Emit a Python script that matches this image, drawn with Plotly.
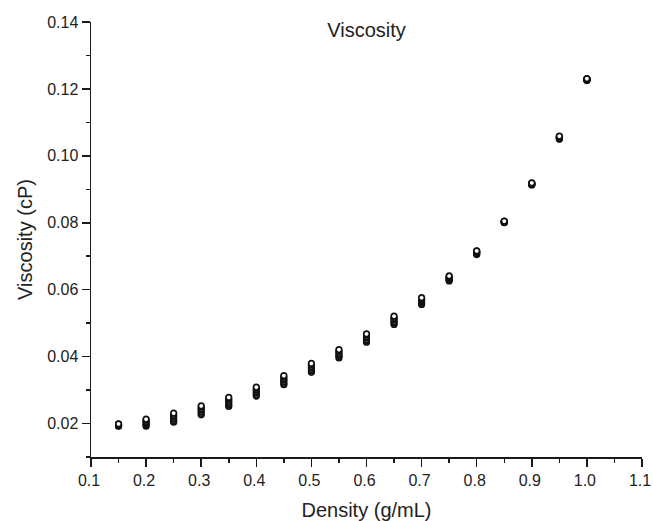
import plotly.graph_objects as go

# Density (g/mL) at which viscosity was evaluated
density = [0.15, 0.20, 0.25, 0.30, 0.35, 0.40, 0.45, 0.50, 0.55,
           0.60, 0.65, 0.70, 0.75, 0.80, 0.85, 0.90, 0.95, 1.00]

# Viscosity (cP), several overlapping series (lowest to highest)
visc_s1 = [0.0192, 0.0192, 0.0204, 0.0226, 0.0251, 0.0282, 0.0316, 0.0353, 0.0396,
           0.0443, 0.0496, 0.0556, 0.0626, 0.0705, 0.0800, 0.0913, 0.1050, 0.1225]
visc_s2 = [0.0193, 0.0195, 0.0208, 0.0230, 0.0255, 0.0286, 0.0320, 0.0357, 0.0400,
           0.0447, 0.0500, 0.0559, 0.0628, 0.0707, 0.0801, 0.0914, 0.1051, 0.1226]
visc_s3 = [0.0194, 0.0199, 0.0213, 0.0235, 0.0260, 0.0291, 0.0325, 0.0362, 0.0404,
           0.0451, 0.0504, 0.0563, 0.0631, 0.0709, 0.0802, 0.0915, 0.1053, 0.1227]
visc_s4 = [0.0195, 0.0203, 0.0218, 0.0240, 0.0265, 0.0296, 0.0330, 0.0367, 0.0409,
           0.0456, 0.0509, 0.0567, 0.0633, 0.0711, 0.0803, 0.0916, 0.1054, 0.1228]
visc_s5 = [0.0197, 0.0206, 0.0222, 0.0244, 0.0269, 0.0300, 0.0334, 0.0371, 0.0413,
           0.0460, 0.0513, 0.0570, 0.0636, 0.0713, 0.0803, 0.0917, 0.1056, 0.1229]
visc_s6 = [0.0198, 0.0210, 0.0227, 0.0249, 0.0274, 0.0305, 0.0339, 0.0376, 0.0417,
           0.0464, 0.0517, 0.0573, 0.0638, 0.0715, 0.0804, 0.0918, 0.1057, 0.1230]
visc_s7 = [0.0199, 0.0213, 0.0231, 0.0253, 0.0278, 0.0309, 0.0343, 0.0380, 0.0421,
           0.0468, 0.0521, 0.0576, 0.0641, 0.0716, 0.0805, 0.0919, 0.1059, 0.1231]

series = [visc_s1, visc_s2, visc_s3, visc_s4, visc_s5, visc_s6, visc_s7]

# Axis ticks
x_ticks = [0.1, 0.2, 0.3, 0.4, 0.5, 0.6, 0.7, 0.8, 0.9, 1.0, 1.1]
x_ticklabels = ["0.1", "0.2", "0.3", "0.4", "0.5", "0.6", "0.7", "0.8", "0.9", "1.0", "1.1"]

title_text = "Viscosity"
x_title = "Density (g/mL)"
y_title = "Viscosity (cP)"

FONT = "Liberation Sans, Arial, sans-serif"

W, H = 653, 521

fig = go.Figure()
for i, s in enumerate(series):
    fig.add_trace(go.Scatter(
        x=density, y=s, mode="markers", name=f"Series {i+1}",
        marker=dict(symbol="circle", size=5.5, color="white",
                    line=dict(color="#111111", width=1.7)),
        showlegend=False, cliponaxis=False, hoverinfo="skip",
    ))

axis_common = dict(
    showline=True, linecolor="#1a1a1a", linewidth=1.5,
    ticks="outside", ticklen=8, tickwidth=1.5, tickcolor="#1a1a1a",
    showgrid=False, zeroline=False, mirror=False, automargin=False,
    ticklabeloverflow="allow",
    tickfont=dict(family=FONT, size=16, color="#222222"),
)

fig.update_layout(
    width=W, height=H,
    margin=dict(l=91, r=11, t=22, b=64),
    paper_bgcolor="white", plot_bgcolor="white",
    font=dict(family=FONT, color="#222222"),
    title=dict(text=title_text, xref="paper", x=0.5, xanchor="center",
               yref="container", y=1 - 30 / H, yanchor="middle",
               font=dict(family=FONT, size=20, color="#222222")),
    xaxis=dict(range=[0.1, 1.1], tickmode="array", tickvals=x_ticks, ticktext=x_ticklabels,
               ticklabelshift=-2,
               minor=dict(dtick=0.05, tick0=0.1, ticklen=4, tickwidth=1.5,
                          tickcolor="#1a1a1a", ticks="outside"),
               title=dict(text=x_title, standoff=17,
                          font=dict(family=FONT, size=20, color="#222222")),
               **axis_common),
    yaxis=dict(range=[0.01, 0.14], tick0=0.0, dtick=0.02, tickformat=".2f",
               minor=dict(dtick=0.01, ticklen=4, tickwidth=1.5, tickcolor="#1a1a1a", ticks="outside"),
               title=dict(text=y_title, standoff=9,
                          font=dict(family=FONT, size=20, color="#222222")),
               **axis_common),
)

# Remove the browser's default 8px body margin so the figure fills the window exactly
fig.write_html(
    "out.html",
    config={"displayModeBar": False, "staticPlot": True},
    post_script="document.body.style.margin='0';document.body.style.overflow='hidden';",
)
